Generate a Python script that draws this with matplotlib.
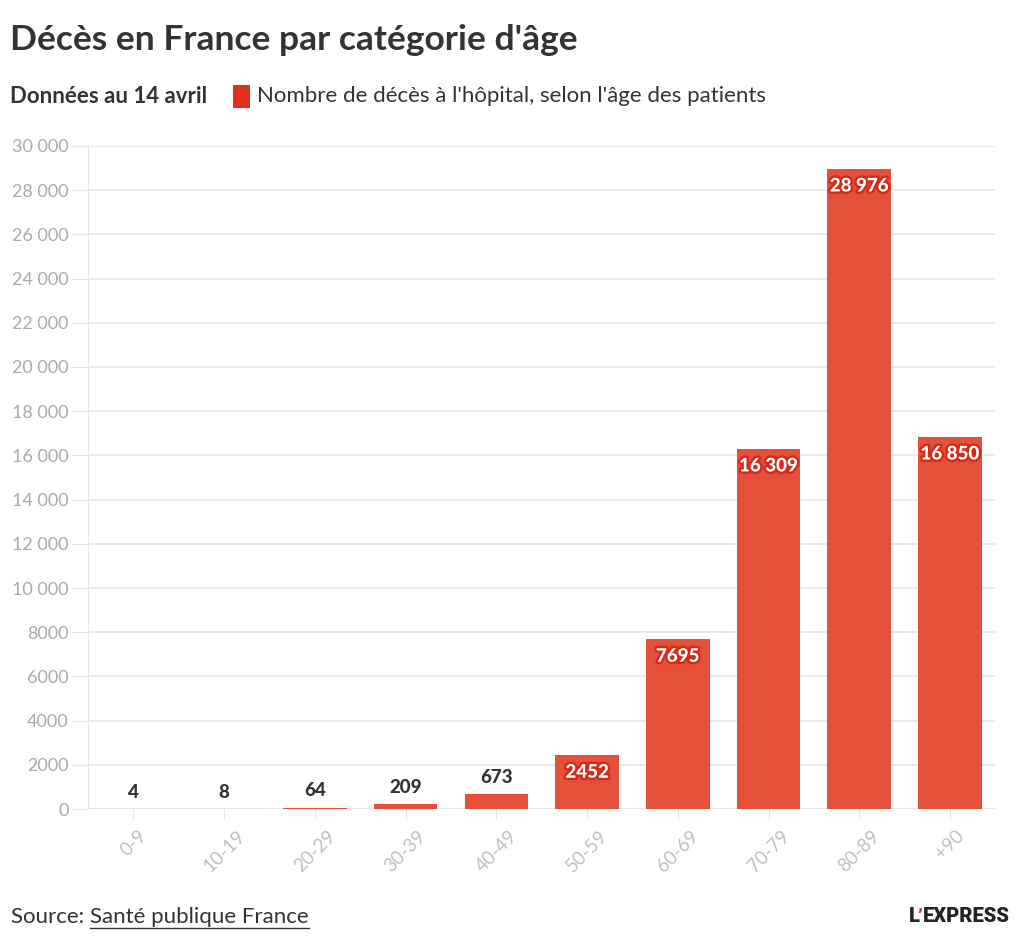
import matplotlib.pyplot as plt
import matplotlib.patheffects as pe
import numpy as np

# Data
ages = ['0-9', '10-19', '20-29', '30-39', '40-49', '50-59', '60-69', '70-79', '80-89', '+90']
deaths = [4, 8, 64, 209, 673, 2452, 7695, 16309, 28976, 16850]
yticks = list(range(0, 30001, 2000))

bar_color = '#e5503a'
dark = '#333333'
grey = '#aaaaaa'
plt.rcParams['font.family'] = ['Lato', 'DejaVu Sans']


def fmt(v):
    # French style: thin separator only from 10 000 upward
    if v >= 10000:
        return f'{v:,}'.replace(',', ' ')
    return str(v)


fig = plt.figure(figsize=(10.24, 9.46), dpi=100)
ax = fig.add_axes([0.086, 0.1448, 0.886, 0.7009])

x = np.arange(len(ages))
ax.bar(x, deaths, width=0.7, color=bar_color, zorder=3)

ax.set_xlim(-0.5, len(ages) - 0.5)
ax.set_ylim(0, 30000)
ax.set_yticks(yticks)
ax.set_yticklabels([fmt(t) for t in yticks], color=grey, fontsize=13)
ax.set_xticks(x)
ax.set_xticklabels(ages, rotation=45, color='#c0c0c0', fontsize=13.5)
for lab in ax.get_xticklabels():
    lab.set_horizontalalignment('center')
ax.tick_params(axis='y', length=12, color='#e6e6e6', pad=2)
ax.tick_params(axis='x', length=7, color='#e6e6e6', pad=6)
ax.grid(axis='y', color='#e6e6e6', linewidth=1.2, zorder=0)
for s in ['top', 'right', 'bottom']:
    ax.spines[s].set_visible(False)
ax.spines['left'].set_color('#e6e6e6')
ax.axhline(0, color='#e6e6e6', linewidth=1.2, zorder=1)

# value labels
for xi, v in zip(x, deaths):
    if v >= 2000:
        ax.annotate(fmt(v), (xi, v), xytext=(0, -12.5), textcoords='offset points',
                    ha='center', va='center', color='white', fontsize=13.5,
                    fontweight='black', zorder=4,
                    path_effects=[pe.withStroke(linewidth=3.5, foreground='#d42a17')])
    else:
        ax.annotate(fmt(v), (xi, v), xytext=(0, 12), textcoords='offset points',
                    ha='center', va='center', color=dark, fontsize=13.5,
                    fontweight='black', zorder=4)

# Title and legend line
fig.text(0.010, 0.958, "Décès en France par catégorie d'âge", fontsize=25.5,
         fontweight='bold', color=dark, va='center')
fig.text(0.010, 0.898, 'Données au 14 avril', fontsize=16, fontweight='bold',
         color=dark, va='center')
fig.patches.append(plt.Rectangle((0.228, 0.886), 0.016, 0.024, transform=fig.transFigure,
                                 facecolor='#e0301e', edgecolor='none'))
fig.text(0.251, 0.898, "Nombre de décès à l'hôpital, selon l'âge des patients",
         fontsize=16, color=dark, va='center')

# Footer
r = fig.canvas.get_renderer()
src = fig.text(0.011, 0.031, 'Source: ', fontsize=16, color=dark, va='center')
bb = src.get_window_extent(r).transformed(fig.transFigure.inverted())
link = fig.text(bb.x1, 0.031, 'Santé publique France', fontsize=16, color=dark, va='center')
lb = link.get_window_extent(r).transformed(fig.transFigure.inverted())
fig.add_artist(plt.Line2D([lb.x0, lb.x1], [0.019, 0.019], color=dark, linewidth=1))

logo_font = dict(fontsize=14.5, fontweight='heavy', va='center',
                 family=['Roboto', 'DejaVu Sans'])
t3 = fig.text(0.986, 0.031, 'EXPRESS', color='#222222', ha='right', **logo_font)
b3 = t3.get_window_extent(r).transformed(fig.transFigure.inverted())
t2 = fig.text(b3.x0, 0.031, '’', color='#e0301e', ha='right', **logo_font)
b2 = t2.get_window_extent(r).transformed(fig.transFigure.inverted())
fig.text(b2.x0 + 0.002, 0.031, 'L', color='#222222', ha='right', **logo_font)

fig.savefig('out.png', dpi=100)
